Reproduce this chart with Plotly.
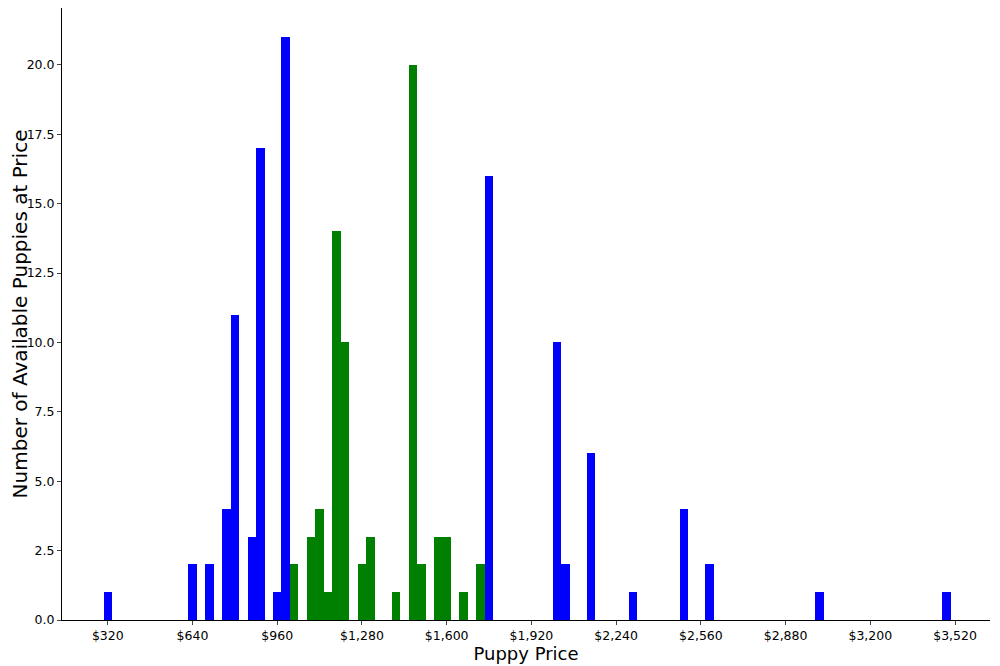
import plotly.graph_objects as go

blue_prices = [320, 640, 704, 768, 800, 864, 896, 960, 992, 1760, 2016, 2048, 2144, 2304, 2496, 2592, 3008, 3488]
blue_counts = [1, 2, 2, 4, 11, 3, 17, 1, 21, 16, 10, 2, 6, 1, 4, 2, 1, 1]
green_prices = [1024, 1088, 1120, 1152, 1184, 1216, 1280, 1312, 1408, 1472, 1504, 1568, 1600, 1664, 1728]
green_counts = [2, 3, 4, 1, 14, 10, 2, 3, 1, 20, 2, 3, 3, 1, 2]
tick_vals = [320, 640, 960, 1280, 1600, 1920, 2240, 2560, 2880, 3200, 3520]

fig = go.Figure()
fig.add_bar(x=blue_prices, y=blue_counts, width=32, marker=dict(color="blue", line_width=0))
fig.add_bar(x=green_prices, y=green_counts, width=32, marker=dict(color="green", line_width=0))
fig.update_layout(
    width=1000, height=666, showlegend=False, barmode="overlay", bargap=0,
    plot_bgcolor="white", paper_bgcolor="white",
    margin=dict(l=54, r=18, t=0, b=54),
    font=dict(family="DejaVu Sans", color="black", size=12.5),
)
fig.update_xaxes(range=[147, 3652], tickvals=tick_vals,
                 ticktext=[f"${v:,}" for v in tick_vals],
                 showgrid=False, zeroline=False, showline=True, linecolor="black",
                 ticks="outside", ticklen=4,
                 title=dict(text="Puppy Price", font=dict(size=18), standoff=4))
fig.update_yaxes(range=[0, 22.05], tickvals=[0, 2.5, 5, 7.5, 10, 12.5, 15, 17.5, 20],
                 tickformat=".1f", showgrid=False, zeroline=False, showline=True,
                 linecolor="black", ticks="outside", ticklen=4,
                 title=dict(text="Number of Available Puppies at Price", font=dict(size=20), standoff=6))
fig.write_html("out.html")
